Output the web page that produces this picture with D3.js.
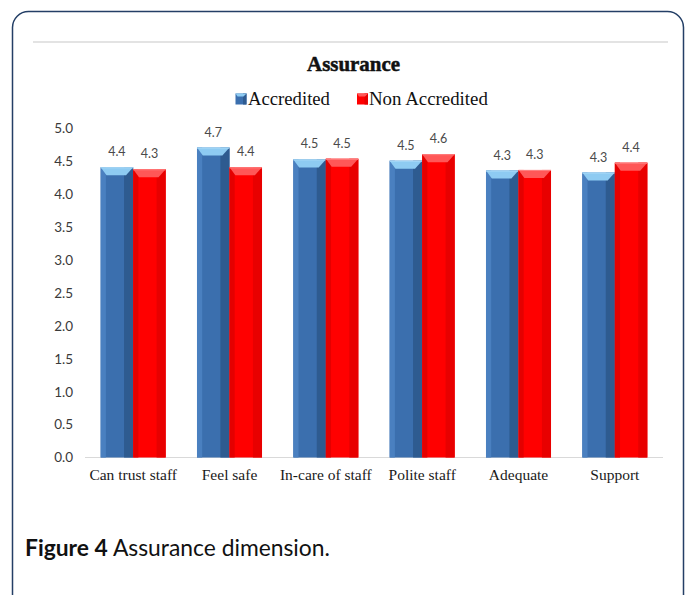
<!DOCTYPE html>
<html>
<head>
<meta charset="utf-8">
<script src="https://cdn.jsdelivr.net/npm/d3@7"></script>
<style>
  html, body { margin: 0; padding: 0; background: #fff; }
  svg { display: block; }
</style>
</head>
<body>
<svg id="chart" width="690" height="595"></svg>
<script>
// ---- data ----
const categories = ["Can trust staff", "Feel safe", "In-care of staff", "Polite staff", "Adequate", "Support"];
const seriesNames = ["Accredited", "Non Accredited"];
const accredited = [4.41, 4.71, 4.53, 4.51, 4.36, 4.33];
const nonAccredited = [4.38, 4.41, 4.54, 4.61, 4.37, 4.48];
const accreditedLabels = ["4.4", "4.7", "4.5", "4.5", "4.3", "4.3"];
const nonAccreditedLabels = ["4.3", "4.4", "4.5", "4.6", "4.3", "4.4"];
const yTicks = [0, 0.5, 1.0, 1.5, 2.0, 2.5, 3.0, 3.5, 4.0, 4.5, 5.0];
const chartTitle = "Assurance";
const captionBold = "Figure 4";
const captionText = " Assurance dimension.";

const SERIF = "'Liberation Serif', 'Times New Roman', Times, serif";
const SANS = "Lato, 'Open Sans', sans-serif";

const svg = d3.select("#chart");

// frame
svg.append("rect")
  .attr("x", 12.5).attr("y", 11.5)
  .attr("width", 671).attr("height", 600)
  .attr("rx", 16).attr("ry", 16)
  .attr("fill", "none").attr("stroke", "#243f66").attr("stroke-width", 1.5);

svg.append("line")
  .attr("x1", 33).attr("x2", 668).attr("y1", 42).attr("y2", 42)
  .attr("stroke", "#e3e3e3").attr("stroke-width", 2);

// scales
const x = d3.scaleBand().domain(categories).range([85, 663]).paddingInner(0.325).paddingOuter(0.1625);
const xs = d3.scaleBand().domain(seriesNames).range([0, x.bandwidth()]);
const y = d3.scaleLinear().domain([0, 5]).range([457.5, 128.5]);

// title (bold serif; stroke to thicken)
const title = svg.append("text")
  .attr("x", 353.5).attr("y", 70.8)
  .attr("text-anchor", "middle")
  .attr("font-family", SERIF)
  .attr("font-weight", "bold")
  .attr("font-size", 21)
  .attr("fill", "#111").attr("stroke", "#111").attr("stroke-width", 0.5)
  .attr("stroke-linejoin", "round")
  .text(chartTitle);
const tw = title.node().getComputedTextLength();
title.attr("font-size", 21 * 93 / tw);

// colours
const styles = {
  "Accredited": { main: "#3b6fae", left: "#4a80c0", right: "#2e5b90", cap: "#8ecbf2", capEdge: "#a9d9f7" },
  "Non Accredited": { main: "#ff0000", left: "#e40000", right: "#e80000", cap: "#ff5757", capEdge: "#ff8080" }
};

function drawBar(g, x0, w, yTop, yBottom, st) {
  const h = yBottom - yTop;
  g.append("rect").attr("x", x0).attr("y", yTop).attr("width", w).attr("height", h).attr("fill", st.main);
  g.append("rect").attr("x", x0).attr("y", yTop).attr("width", w * 0.16).attr("height", h).attr("fill", st.left);
  g.append("rect").attr("x", x0 + w * 0.72).attr("y", yTop).attr("width", w * 0.28).attr("height", h).attr("fill", st.right);
  const capH = Math.min(8, h);
  const pts = [
    [x0, yTop], [x0 + w, yTop],
    [x0 + w * 0.78, yTop + capH], [x0 + w * 0.18, yTop + capH]
  ];
  g.append("polygon").attr("points", pts.map(p => p.join(",")).join(" ")).attr("fill", st.cap);
  g.append("line").attr("x1", x0).attr("x2", x0 + w).attr("y1", yTop + 0.5).attr("y2", yTop + 0.5)
    .attr("stroke", st.capEdge).attr("stroke-width", 1);
}

// legend
const legend = svg.append("g");
const legendItems = [
  { name: seriesNames[0], sx: 235.5, tx: 248, w: 82 },
  { name: seriesNames[1], sx: 357, tx: 369, w: 119 }
];
legendItems.forEach(it => {
  const st = styles[it.name];
  const lg = legend.append("g");
  lg.append("rect").attr("x", it.sx).attr("y", 93.5).attr("width", 11).attr("height", 11).attr("fill", st.main);
  lg.append("rect").attr("x", it.sx + 7.5).attr("y", 93.5).attr("width", 3.5).attr("height", 11).attr("fill", st.right);
  lg.append("polygon")
    .attr("points", `${it.sx},93.5 ${it.sx + 11},93.5 ${it.sx + 8},96.5 ${it.sx + 2},96.5`)
    .attr("fill", st.cap);
  const t = lg.append("text").attr("x", it.tx).attr("y", 105)
    .attr("font-family", SERIF)
    .attr("font-size", 18.5).attr("fill", "#111")
    .text(it.name);
  const w = t.node().getComputedTextLength();
  t.attr("font-size", 18.5 * it.w / w);
});

// x axis line
svg.append("line")
  .attr("x1", 85).attr("x2", 663).attr("y1", y(0)).attr("y2", y(0))
  .attr("stroke", "#d9d9d9").attr("stroke-width", 1.2);

// y axis (labels only)
const yAxis = d3.axisLeft(y).tickValues(yTicks).tickFormat(d3.format(".1f")).tickSize(0).tickPadding(0);
const yg = svg.append("g").attr("transform", "translate(73,0)").call(yAxis);
yg.select(".domain").remove();
yg.selectAll("text")
  .attr("font-family", SANS)
  .attr("font-size", 13.5).attr("fill", "#3a3a3a");

// x axis labels
const xAxis = d3.axisBottom(x).tickSize(0).tickPadding(0);
const xg = svg.append("g").attr("transform", "translate(0,469)").call(xAxis);
xg.select(".domain").remove();
xg.selectAll("text")
  .attr("font-family", SERIF)
  .attr("font-size", 15.5).attr("fill", "#1a1a1a");

// bars
const rows = categories.map((c, i) => ({
  cat: c,
  vals: [
    { s: seriesNames[0], v: accredited[i], label: accreditedLabels[i] },
    { s: seriesNames[1], v: nonAccredited[i], label: nonAccreditedLabels[i] }
  ]
}));
const barsG = svg.append("g");
rows.forEach(r => {
  r.vals.forEach(d => {
    const x0 = x(r.cat) + xs(d.s);
    const w = xs.bandwidth();
    drawBar(barsG, x0, w, y(d.v), y(0), styles[d.s]);
    barsG.append("text")
      .attr("x", x0 + w / 2).attr("y", y(d.v) - 11)
      .attr("text-anchor", "middle")
      .attr("font-family", SANS)
      .attr("font-size", 12.5).attr("fill", "#4a4a4a")
      .text(d.label);
  });
});

// caption
const cap = svg.append("text").attr("x", 25).attr("y", 556)
  .attr("font-family", SANS).attr("font-size", 22).attr("fill", "#111");
cap.append("tspan").attr("font-weight", "bold").text(captionBold);
cap.append("tspan").text(captionText);
const capW = cap.node().getComputedTextLength();
cap.attr("font-size", 22 * 305 / capW);
</script>
</body>
</html>
